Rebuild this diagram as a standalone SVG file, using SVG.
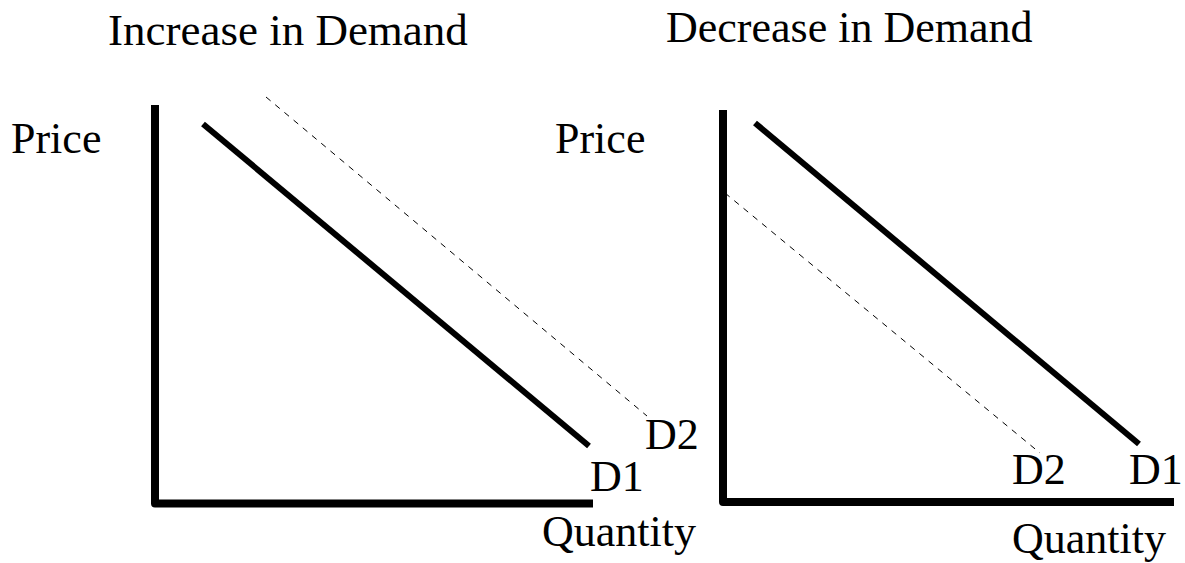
<svg xmlns="http://www.w3.org/2000/svg" width="1185" height="563" viewBox="0 0 1185 563">
<style>
text{font-family:"Liberation Serif","Times New Roman",serif;font-size:44px;fill:#000}
.axis{fill:none;stroke:#000;stroke-width:8;stroke-linejoin:round}
.d1{stroke:#000;stroke-width:6}
.d2{stroke:#000;stroke-width:1;stroke-dasharray:6 6}
</style>
<rect width="1185" height="563" fill="#fff"/>
<g id="increase-chart">
<text x="108" y="45" style="font-size:45px">Increase in Demand</text>
<text x="11" y="153">Price</text>
<text x="542" y="546">Quantity</text>
<text x="645" y="449">D2</text>
<text x="590" y="491">D1</text>
</g>
<g id="decrease-chart">
<text x="666" y="42">Decrease in Demand</text>
<text x="555" y="153">Price</text>
<text x="1012" y="553">Quantity</text>
<text x="1012" y="484">D2</text>
<text x="1129" y="484">D1</text>
</g>
<g id="connectors">
<polyline class="axis" points="155,105 155,503.5 593,503.5"/>
<line class="d1" x1="203" y1="124" x2="589" y2="446"/>
<line class="d2" x1="266" y1="97" x2="647" y2="416"/>
<polyline class="axis" points="723,110 723,502 1174,502"/>
<line class="d1" x1="755" y1="123" x2="1139" y2="444"/>
<line class="d2" x1="725" y1="193" x2="1040" y2="453"/>
</g>
</svg>
